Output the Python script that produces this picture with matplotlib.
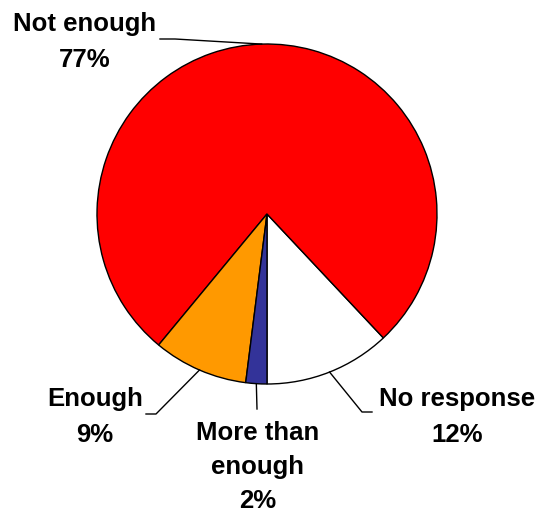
import matplotlib
matplotlib.use("Agg")
import matplotlib.pyplot as plt
import numpy as np

# survey responses, going round from the bottom of the pie
labels = ["No response", "Not enough", "Enough", "More than\nenough"]
shares = [12, 77, 9, 2]
colors = ["#FFFFFF", "#FF0000", "#FF9900", "#333399"]

plt.rcParams['font.family'] = ['Liberation Sans', 'DejaVu Sans']

W, H = 538, 516
fig = plt.figure(figsize=(W / 100, H / 100), dpi=100)
ax = fig.add_axes([0, 0, 1, 1])

cx, cy, r = 267, 214, 170
# y axis is flipped (pixel-style coords), so the sweep direction is mirrored
wedges, _ = ax.pie(shares, colors=colors, startangle=90, counterclock=False,
                   center=(cx, cy), radius=r, frame=True,
                   wedgeprops=dict(edgecolor='black', linewidth=1.0))
ax.set_xlim(0, W)
ax.set_ylim(H, 0)
ax.axis('off')

# label text centre, leader elbow, leader end
layout = {
    "No response": ((457, 417), (362, 412), (372, 412)),
    "Not enough": ((85, 42), (175, 39), (160, 39)),
    "Enough": ((95, 417), (156, 414), (146, 414)),
    "More than\nenough": ((258, 467), (257, 409), (257, 409)),
}

for w, lab, val in zip(wedges, labels, shares):
    mid = np.deg2rad((w.theta1 + w.theta2) / 2)
    ex = cx + r * np.cos(mid)
    ey = cy + r * np.sin(mid)
    (tx, ty), (bx, by), (lx, ly) = layout[lab]
    ax.plot([ex, bx, lx], [ey, by, ly], color='black', lw=1.0)
    lsp = 1.5 if "\n" in lab else 1.58
    ax.text(tx, ty, f"{lab}\n{val}%", ha='center', va='center',
            fontsize=18.5, fontweight='bold', linespacing=lsp)

fig.savefig("out.png", dpi=100)
